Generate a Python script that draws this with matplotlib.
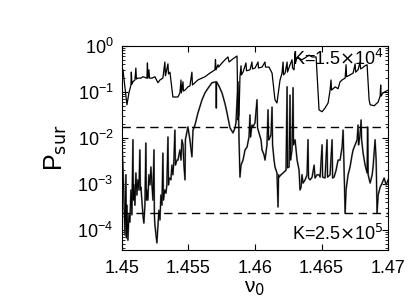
import numpy as np
import matplotlib
matplotlib.use("Agg")
import matplotlib.pyplot as plt
import matplotlib.ticker as ticker

plt.rcParams["font.family"] = ["Liberation Sans Narrow", "Liberation Sans", "DejaVu Sans"]
plt.rcParams["mathtext.fontset"] = "custom"
plt.rcParams["mathtext.rm"] = "Liberation Sans Narrow"
plt.rcParams["mathtext.it"] = "Liberation Sans Narrow:italic"

# survival probability, K = 1.5e4  (nu0, log10 P_sur)
UPPER = [
    (1.45000, -0.48), (1.45008, -0.52), (1.45023, -0.89), (1.45038, -1.28),
    (1.45053, -1.02), (1.45068, -0.85), (1.45071, -0.57), (1.45075, -0.83),
    (1.45083, -0.78), (1.45098, -0.74), (1.45105, -0.48), (1.45109, -0.72),
    (1.45120, -0.70), (1.45143, -0.70), (1.45158, -0.67), (1.45188, -0.70),
    (1.45192, -0.37), (1.45195, -0.70), (1.45203, -0.52), (1.45207, -0.70),
    (1.45226, -0.70), (1.45248, -0.67), (1.45271, -0.80), (1.45286, -0.74),
    (1.45308, -0.70), (1.45323, -0.35), (1.45327, -0.65), (1.45346, -0.39),
    (1.45350, -0.61), (1.45361, -0.57), (1.45383, -1.11), (1.45398, -1.11),
    (1.45421, -1.11), (1.45436, -1.02), (1.45444, -0.74), (1.45447, -1.02),
    (1.45459, -0.78), (1.45462, -0.98), (1.45474, -0.96), (1.45496, -0.89),
    (1.45511, -0.87), (1.45526, -0.57), (1.45530, -0.85), (1.45571, -0.74),
    (1.45624, -0.67), (1.45662, -0.59), (1.45699, -0.52), (1.45703, -0.30),
    (1.45707, -0.52), (1.45722, -0.41), (1.45726, -0.46), (1.45752, -0.37),
    (1.45775, -0.30), (1.45797, -0.24), (1.45805, -0.35), (1.45835, -0.28),
    (1.45865, -0.22), (1.45872, -1.61), (1.45880, -1.50), (1.45887, -0.67),
    (1.45895, -0.43), (1.45898, -0.63), (1.45910, -0.57), (1.45932, -0.37),
    (1.45936, -0.54), (1.45962, -0.52), (1.45977, -0.35), (1.45981, -0.50),
    (1.46000, -0.48), (1.46023, -0.35), (1.46026, -0.48), (1.46053, -0.46),
    (1.46075, -0.35), (1.46079, -0.46), (1.46105, -0.46), (1.46128, -0.59),
    (1.46150, -1.17), (1.46165, -1.24), (1.46188, -0.74), (1.46203, -0.59),
    (1.46211, -0.35), (1.46214, -0.63), (1.46226, -0.59), (1.46241, -0.35),
    (1.46244, -0.57), (1.46263, -0.41), (1.46278, -0.30), (1.46282, -0.48),
    (1.46293, -0.52), (1.46301, -0.15), (1.46305, -0.35), (1.46316, -0.26),
    (1.46353, -0.30), (1.46376, -0.26), (1.46406, -0.20), (1.46429, -0.24),
    (1.46459, -0.24), (1.46481, -1.39), (1.46504, -1.43), (1.46526, -1.35),
    (1.46549, -1.24), (1.46564, -0.96), (1.46571, -0.74), (1.46575, -0.96),
    (1.46602, -0.89), (1.46624, -0.93), (1.46639, -0.78), (1.46654, -0.74),
    (1.46677, -0.70), (1.46684, -0.41), (1.46688, -0.67), (1.46714, -0.63),
    (1.46737, -0.59), (1.46752, -0.39), (1.46756, -0.57), (1.46774, -0.52),
    (1.46789, -0.35), (1.46793, -0.50), (1.46805, -0.48), (1.46827, -0.43),
    (1.46842, -0.41), (1.46857, -1.17), (1.46865, -1.28), (1.46895, -1.30),
    (1.46925, -1.22), (1.46940, -1.09), (1.46944, -0.85), (1.46947, -1.09),
    (1.46962, -1.02), (1.47000, -0.96),
]

# survival probability, K = 2.5e5  (nu0, log10 P_sur)
LOWER = [
    (1.45000, -2.04), (1.45008, -2.63), (1.45015, -3.35), (1.45023, -4.11),
    (1.45030, -2.80), (1.45034, -4.17), (1.45038, -3.46), (1.45045, -4.22),
    (1.45053, -3.67), (1.45060, -3.83), (1.45068, -3.13), (1.45075, -3.67),
    (1.45083, -2.04), (1.45086, -3.35), (1.45090, -3.02), (1.45098, -3.46),
    (1.45105, -2.76), (1.45113, -3.24), (1.45120, -2.91), (1.45128, -3.13),
    (1.45135, -2.26), (1.45139, -3.13), (1.45143, -3.07), (1.45150, -3.35),
    (1.45158, -3.67), (1.45165, -3.85), (1.45173, -3.46), (1.45180, -2.11),
    (1.45184, -3.35), (1.45188, -3.13), (1.45195, -3.35), (1.45203, -2.80),
    (1.45211, -3.02), (1.45218, -2.63), (1.45226, -3.02), (1.45233, -3.35),
    (1.45241, -2.26), (1.45244, -3.67), (1.45248, -3.89), (1.45256, -4.11),
    (1.45263, -4.28), (1.45271, -3.89), (1.45278, -3.57), (1.45286, -3.78),
    (1.45293, -3.24), (1.45301, -3.46), (1.45308, -2.33), (1.45312, -3.35),
    (1.45316, -3.24), (1.45323, -3.13), (1.45331, -3.20), (1.45338, -3.02),
    (1.45346, -1.98), (1.45350, -3.02), (1.45353, -2.91), (1.45361, -2.87),
    (1.45368, -2.91), (1.45376, -2.59), (1.45383, -2.80), (1.45391, -2.48),
    (1.45398, -1.83), (1.45402, -2.59), (1.45414, -2.48), (1.45421, -2.48),
    (1.45436, -2.26), (1.45444, -2.48), (1.45451, -2.04), (1.45459, -2.15),
    (1.45466, -2.59), (1.45474, -2.91), (1.45477, -2.04), (1.45481, -1.98),
    (1.45489, -1.87), (1.45496, -1.76), (1.45511, -2.04), (1.45526, -2.41),
    (1.45534, -1.83), (1.45549, -1.72), (1.45571, -1.46), (1.45602, -1.17),
    (1.45624, -1.02), (1.45654, -0.89), (1.45677, -0.80), (1.45707, -0.78),
    (1.45709, -1.35), (1.45711, -0.78), (1.45729, -0.87), (1.45752, -1.02),
    (1.45775, -1.26), (1.45790, -1.46), (1.45812, -1.78), (1.45835, -1.89),
    (1.45850, -1.78), (1.45857, -1.67), (1.45865, -1.17), (1.45872, -0.78),
    (1.45880, -2.04), (1.45887, -2.85), (1.45895, -2.59), (1.45910, -2.48),
    (1.45925, -2.26), (1.45940, -2.20), (1.45955, -1.98), (1.45962, -1.50),
    (1.45966, -1.98), (1.45977, -1.72), (1.45985, -1.76), (1.46000, -1.67),
    (1.46015, -1.17), (1.46019, -1.78), (1.46030, -1.89), (1.46045, -2.04),
    (1.46053, -2.26), (1.46068, -2.37), (1.46075, -2.48), (1.46090, -2.15),
    (1.46098, -1.39), (1.46102, -2.04), (1.46105, -2.04), (1.46120, -1.93),
    (1.46128, -1.33), (1.46132, -2.15), (1.46143, -2.48), (1.46150, -2.63),
    (1.46165, -2.76), (1.46173, -3.50), (1.46177, -2.80), (1.46180, -2.85),
    (1.46195, -2.80), (1.46211, -2.76), (1.46233, -2.70), (1.46241, -0.89),
    (1.46244, -2.65), (1.46256, -2.63), (1.46263, -1.07), (1.46267, -2.48),
    (1.46278, -2.26), (1.46286, -0.91), (1.46289, -2.15), (1.46301, -2.04),
    (1.46316, -2.48), (1.46331, -2.70), (1.46338, -3.13), (1.46346, -3.07),
    (1.46353, -2.80), (1.46361, -2.98), (1.46376, -2.91), (1.46391, -2.80),
    (1.46398, -2.04), (1.46402, -2.87), (1.46414, -2.91), (1.46429, -2.85),
    (1.46444, -2.59), (1.46451, -2.87), (1.46466, -2.80), (1.46481, -2.80),
    (1.46489, -2.85), (1.46504, -2.15), (1.46508, -2.85), (1.46526, -2.87),
    (1.46541, -2.04), (1.46545, -2.85), (1.46564, -2.80), (1.46579, -2.04),
    (1.46583, -2.87), (1.46594, -2.85), (1.46609, -2.70), (1.46624, -2.48),
    (1.46639, -2.48), (1.46654, -2.20), (1.46662, -1.83), (1.46669, -2.70),
    (1.46677, -3.63), (1.46684, -3.13), (1.46699, -2.80), (1.46714, -2.63),
    (1.46729, -2.37), (1.46737, -2.26), (1.46752, -2.15), (1.46767, -2.04),
    (1.46774, -1.72), (1.46778, -2.15), (1.46789, -1.93), (1.46797, -1.61),
    (1.46801, -2.04), (1.46812, -2.33), (1.46827, -2.59), (1.46842, -2.76),
    (1.46846, -1.76), (1.46850, -2.80), (1.46865, -2.98), (1.46880, -2.80),
    (1.46887, -2.63), (1.46902, -2.04), (1.46910, -2.48), (1.46917, -3.63),
    (1.46925, -3.24), (1.46940, -3.07), (1.46955, -2.98), (1.46970, -2.87),
    (1.46985, -3.02), (1.47000, -2.91),
]

THRESHOLDS = [0.0174, 2.35e-4]
LABEL_HI = r"K=1.5$\times$10$^4$"
LABEL_LO = r"K=2.5$\times$10$^5$"


def run() -> None:
    nu_hi, lp_hi = np.array(UPPER).T
    nu_lo, lp_lo = np.array(LOWER).T

    fig = plt.figure(figsize=(4.16, 3.0), dpi=100)
    fig.patch.set_facecolor("white")
    ax = fig.add_axes([0.293, 0.167, 0.640, 0.680])

    ax.plot(nu_lo, 10.0 ** lp_lo, color="#7f7f7f", lw=1.3)
    ax.plot(nu_lo, 10.0 ** lp_lo, color="black", lw=0.7)
    ax.plot(nu_hi, 10.0 ** lp_hi, color="black", lw=0.9)
    for th in THRESHOLDS:
        ax.axhline(th, color="black", lw=1.0, ls=(0, (6, 4)))

    ax.set_yscale("log")
    ax.set_xlim(1.45, 1.47)
    ax.set_ylim(3.7e-5, 1.0)
    ax.set_xticks([1.45, 1.455, 1.46, 1.465, 1.47])
    ax.xaxis.set_major_formatter(ticker.FormatStrFormatter("%g"))
    ax.yaxis.set_major_locator(ticker.LogLocator(base=10, numticks=10))
    ax.yaxis.set_minor_locator(ticker.LogLocator(base=10, subs=np.arange(2, 10), numticks=10))
    ax.yaxis.set_minor_formatter(ticker.NullFormatter())
    ax.tick_params(which="both", direction="in", top=True, right=True, labelsize=13)
    ax.tick_params(which="major", length=4)
    ax.tick_params(which="minor", length=2)
    ax.tick_params(axis="x", pad=7)
    ax.tick_params(axis="y", pad=6)

    ax.set_xlabel("ν$_0$", fontsize=15, labelpad=2)
    ax.set_ylabel(r"P$_{\mathrm{sur}}$", fontsize=18, labelpad=6)

    ax.text(0.985, 0.985, LABEL_HI, transform=ax.transAxes, ha="right", va="top", fontsize=13)
    ax.text(0.985, 0.03, LABEL_LO, transform=ax.transAxes, ha="right", va="bottom", fontsize=13)

    fig.savefig("out.png", dpi=100)


if __name__ == "__main__":
    run()
